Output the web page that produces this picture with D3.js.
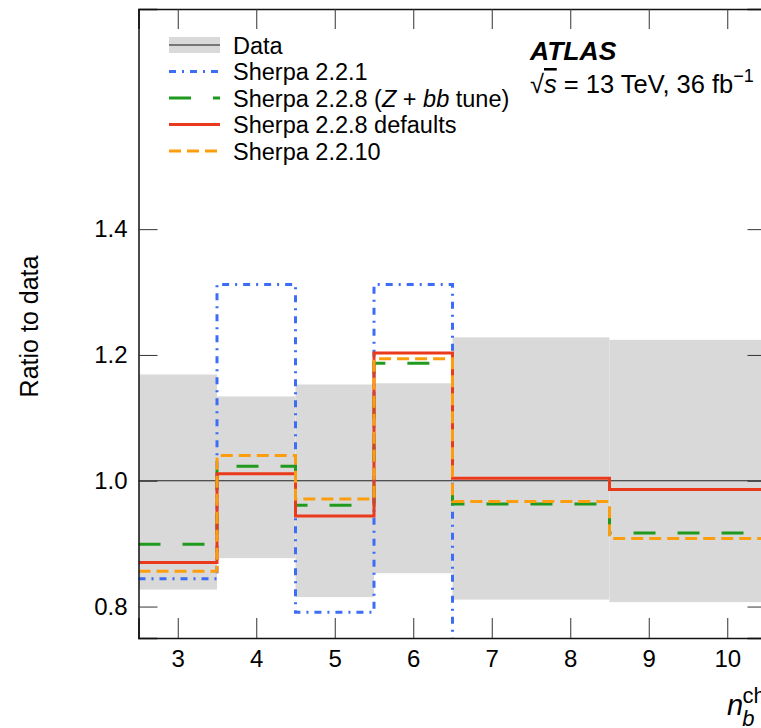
<!DOCTYPE html>
<html lang="en">
<head>
  <meta charset="UTF-8">
  <script src="https://d3js.org/d3.v7.min.js"></script>
  <title>Ratio to data</title>
  <style>
    body { margin: 0; background: #fff; }
    svg { font-family: "Liberation Sans", Arial, sans-serif; }
  </style>
</head>
<body>
  <svg width="761" height="728"></svg>
  <script>
    // bin edges in n_b^ch
    const binEdges = [2.5, 3.5, 4.5, 5.5, 6.5, 8.5, 10.5];
    const dataLow  = [0.827, 0.877, 0.815, 0.853, 0.811, 0.807];
    const dataHigh = [1.169, 1.134, 1.153, 1.155, 1.228, 1.224];
    const dataCentral = [1, 1, 1, 1, 1, 1];
    const sherpa221 = [0.844, 1.312, 0.791, 1.312, 0.70, 0.70];
    const sherpa228tune = [0.899, 1.023, 0.961, 1.187, 0.963, 0.917];
    const sherpa228def = [0.870, 1.011, 0.944, 1.203, 1.004, 0.986];
    const sherpa2210 = [0.856, 1.040, 0.971, 1.194, 0.967, 0.908];
    const xTicks = [3, 4, 5, 6, 7, 8, 9, 10];
    const yTicks = [0.8, 1.0, 1.2, 1.4];

    const svg = d3.select("svg");
    const x = d3.scaleLinear().domain([2.5, 10.5]).range([138.5, 766.5]);
    const y = d3.scaleLinear().domain([0.75, 1.75]).range([638, 9]);

    svg.append("defs").append("clipPath").attr("id", "plotClip")
      .append("rect")
      .attr("x", x(2.5)).attr("y", y(1.75))
      .attr("width", x(10.5) - x(2.5)).attr("height", y(0.75) - y(1.75));

    const plot = svg.append("g").attr("clip-path", "url(#plotClip)");

    // data uncertainty band
    plot.selectAll("rect.band")
      .data(dataLow)
      .enter()
      .append("rect")
      .attr("class", "band")
      .attr("x", (d, i) => x(binEdges[i]))
      .attr("width", (d, i) => x(binEdges[i + 1]) - x(binEdges[i]))
      .attr("y", (d, i) => y(dataHigh[i]))
      .attr("height", (d, i) => y(d) - y(dataHigh[i]))
      .style("fill", "#d9d9d9");

    // step line helper
    const step = d3.line()
      .x(d => x(d[0]))
      .y(d => y(d[1]))
      .curve(d3.curveStepAfter);
    const stepPoints = (vals) => {
      const pts = vals.map((v, i) => [binEdges[i], v]);
      pts.push([binEdges[binEdges.length - 1], vals[vals.length - 1]]);
      return pts;
    };

    const series = [
      { name: "data", vals: dataCentral, color: "#222", width: 1, dash: null },
      { name: "221", vals: sherpa221, color: "#3d6cf5", width: 3, dash: "7,6,2,6" },
      { name: "228tune", vals: sherpa228tune, color: "#1f9a1f", width: 3, dash: "22,22" },
      { name: "228def", vals: sherpa228def, color: "#ea3a1c", width: 3, dash: null },
      { name: "2210", vals: sherpa2210, color: "#fb9d0c", width: 3, dash: "12,6" }
    ];

    series.forEach(s => {
      plot.append("path")
        .attr("d", step(stepPoints(s.vals)))
        .style("fill", "none")
        .style("stroke", s.color)
        .style("stroke-width", s.width)
        .style("stroke-dasharray", s.dash);
    });

    // axes frame
    const xb = d3.axisBottom(x).tickValues(xTicks).tickSize(-20).tickPadding(12);
    const xt = d3.axisTop(x).tickValues(xTicks).tickSize(-20).tickFormat("");
    const yl = d3.axisLeft(y).tickValues(yTicks).tickSize(-19).tickPadding(10)
      .tickFormat(d3.format(".1f"));
    const yr = d3.axisRight(y).tickValues(yTicks).tickSize(-19).tickFormat("");

    svg.append("g").attr("id", "xAxisB").attr("transform", `translate(0,${y(0.75)})`).call(xb);
    svg.append("g").attr("id", "xAxisT").attr("transform", `translate(0,${y(1.75)})`).call(xt);
    svg.append("g").attr("id", "yAxisL").attr("transform", `translate(${x(2.5)},0)`).call(yl);
    svg.append("g").attr("id", "yAxisR").attr("transform", `translate(${x(10.5)},0)`).call(yr);

    svg.selectAll(".domain").style("stroke", "#111").style("stroke-width", "1.5px");
    svg.selectAll(".tick line").style("stroke", "#333").style("stroke-width", "1px");
    svg.selectAll(".tick text").style("font-size", "24px").style("fill", "#000")
      .style("font-family", "'Liberation Sans', Arial, sans-serif");
    d3.selectAll("#yAxisL .tick text").attr("dx", "-1");

    // axis titles
    svg.append("text")
      .attr("transform", `translate(38,${(y(0.75) + y(1.75)) / 2 + 3}) rotate(-90)`)
      .attr("text-anchor", "middle")
      .style("font-size", "25px")
      .text("Ratio to data");

    const xt2 = svg.append("text")
      .attr("x", 727).attr("y", 715)
      .style("font-size", "29px");
    xt2.append("tspan").style("font-style", "italic").text("n");
    xt2.append("tspan").attr("dy", 11).attr("dx", -1).style("font-style", "italic")
      .style("font-size", "22px").text("b");
    xt2.append("tspan").attr("dy", -23).attr("dx", -12)
      .style("font-size", "22px").text("ch");

    // legend
    const legendNames = ["Data", "Sherpa 2.2.1", "Sherpa 2.2.8 (Z + bb tune)",
      "Sherpa 2.2.8 defaults", "Sherpa 2.2.10"];
    const legendY = d3.scalePoint().domain(d3.range(5)).range([45, 151]);
    const lg = svg.append("g");
    lg.append("rect")
      .attr("x", 169).attr("width", 51)
      .attr("y", legendY(0) - 8).attr("height", 16)
      .style("fill", "#d9d9d9");
    series.forEach((s, i) => {
      lg.append("line")
        .attr("x1", 169).attr("x2", 220)
        .attr("y1", legendY(i)).attr("y2", legendY(i))
        .style("stroke", i === 0 ? "#555" : s.color)
        .style("stroke-width", i === 0 ? 1.5 : s.width)
        .style("stroke-dasharray", s.dash);
    });
    legendNames.forEach((n, i) => {
      const t = lg.append("text")
        .attr("x", 233).attr("y", legendY(i) + 8.5)
        .style("font-size", "23.5px");
      if (i === 2) {
        t.append("tspan").text("Sherpa 2.2.8 (");
        t.append("tspan").style("font-style", "italic").text("Z");
        t.append("tspan").text(" + ");
        t.append("tspan").style("font-style", "italic").text("bb");
        t.append("tspan").text(" tune)");
      } else {
        t.text(n);
      }
    });

    // ATLAS label
    svg.append("text")
      .attr("x", 530).attr("y", 60)
      .style("font-size", "26.5px").style("font-weight", "bold").style("font-style", "italic")
      .text("ATLAS");
    const lumi = svg.append("text").attr("x", 530).attr("y", 93).style("font-size", "25.5px");
    lumi.append("tspan").text("\u221A");
    lumi.append("tspan").style("font-style", "italic").style("text-decoration", "overline").text("s");
    lumi.append("tspan").text(" = 13 TeV, 36 fb");
    lumi.append("tspan").attr("dy", -11).style("font-size", "18px").text("\u22121");
  </script>
</body>
</html>
